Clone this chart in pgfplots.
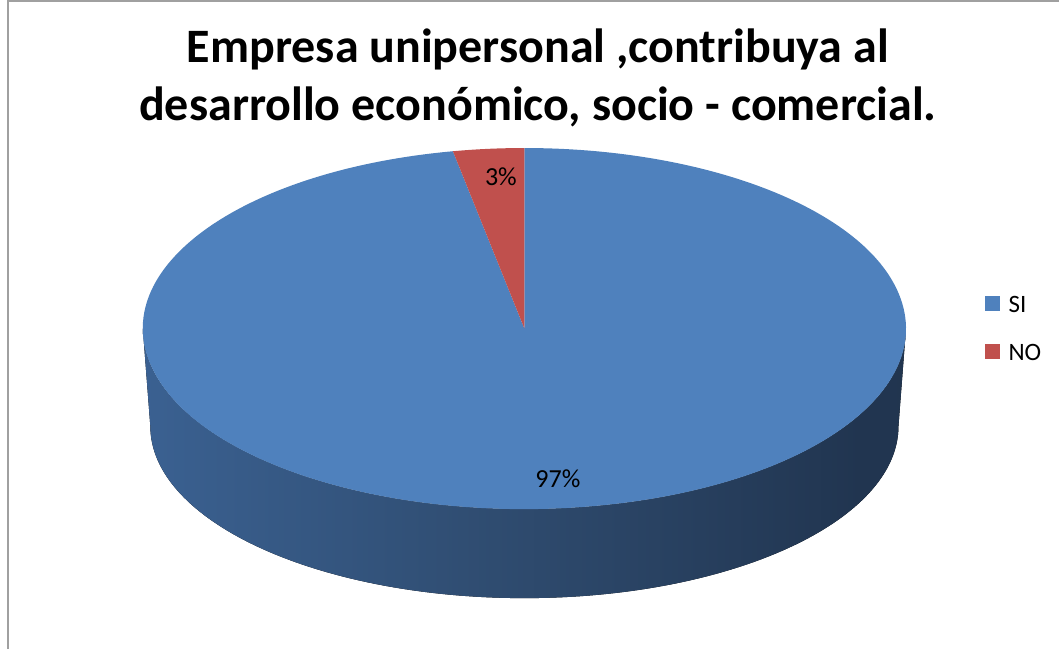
\documentclass[border=0pt]{standalone}
\usepackage{pgfplots}
\pgfplotsset{compat=1.18}
\usepackage{pgfplotstable}
\usepackage{fontspec}
\setmainfont{Carlito}

\definecolor{siblue}{RGB}{79,129,189}
\definecolor{nored}{RGB}{192,80,77}
\definecolor{sideA}{RGB}{70,114,170}
\definecolor{sideB}{RGB}{58,96,144}
\definecolor{sideC}{RGB}{47,76,112}
\definecolor{sideD}{RGB}{33,53,80}
\definecolor{sideE}{RGB}{30,49,74}
\definecolor{framegray}{RGB}{160,160,160}
\pgfdeclarehorizontalshading{pieside}{100bp}{color(0bp)=(sideA); color(26bp)=(sideB);
  color(48bp)=(sideC); color(72bp)=(sideD); color(100bp)=(sideE)}

% survey answers, percent
\pgfplotstableread{
slice value
SI 97
NO 3
}\piedata

\begin{document}
\pgfplotstablegetelem{0}{value}\of\piedata \let\vSI\pgfplotsretval
\pgfplotstablegetelem{1}{value}\of\piedata \let\vNO\pgfplotsretval
\pgfmathsetmacro\aNO{90+360*\vNO/(\vSI+\vNO)}
\pgfmathsetmacro\pX{381.5*cos(\aNO)}
\pgfmathsetmacro\pY{180.5*sin(\aNO)}
\begin{tikzpicture}
\begin{axis}[scale only axis, width=1059pt, height=653pt,
  xmin=0, xmax=1059, ymin=0, ymax=653, axis lines=none]
% frame
\draw[framegray, line width=2pt] (axis cs:8,0) -- (axis cs:8,648) -- (axis cs:1059,648);
% side of the disc
\fill[shading=pieside] (axis cs:143,320.5)
  arc[start angle=180, end angle=360, x radius=381.5pt, y radius=180.5pt]
  -- (axis cs:898.5,223)
  arc[start angle=0, end angle=-180, x radius=374pt, y radius=172pt] -- cycle;
% top face
\fill[siblue] (axis cs:524.5,320.5) -- ++(\pX pt,\pY pt)
  arc[start angle=\aNO, end angle=450, x radius=381.5pt, y radius=180.5pt] -- cycle;
\fill[nored] (axis cs:524.5,320.5) -- ++(0pt,180.5pt)
  arc[start angle=90, end angle=\aNO, x radius=381.5pt, y radius=180.5pt] -- cycle;
% data labels
\node[font=\fontsize{26}{30}\selectfont] at (axis cs:501,472) {\vNO\%};
\node[font=\fontsize{26}{30}\selectfont] at (axis cs:558,170) {\vSI\%};
% title
\node[anchor=base, font=\fontsize{48}{58}\selectfont\bfseries] at (axis cs:538,587)
  {Empresa unipersonal ,contribuya al};
\node[anchor=base, font=\fontsize{48}{58}\selectfont\bfseries] at (axis cs:538,529)
  {desarrollo económico, socio - comercial.};
% legend
\fill[siblue] (axis cs:985,338) rectangle (axis cs:1000,353);
\fill[nored] (axis cs:985,290) rectangle (axis cs:1000,305);
\node[anchor=base west, font=\fontsize{25}{30}\selectfont] at (axis cs:1005,337) {SI};
\node[anchor=base west, font=\fontsize{25}{30}\selectfont] at (axis cs:1005,289) {NO};
\end{axis}
\end{tikzpicture}
\end{document}
